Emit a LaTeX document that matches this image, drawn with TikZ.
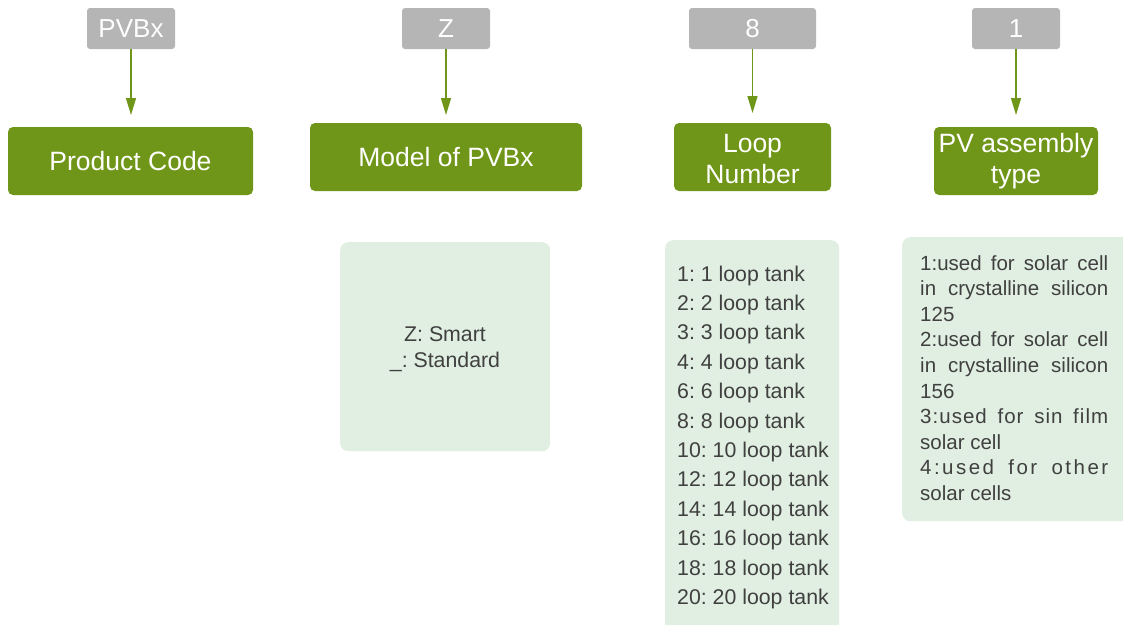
\documentclass[tikz,border=0pt]{standalone}
\usepackage{fontspec}
\setmainfont{Liberation Sans}
\usetikzlibrary{arrows.meta}
\frenchspacing
\definecolor{leaf}{HTML}{6F9618}
\definecolor{codegray}{HTML}{B5B5B5}
\definecolor{pale}{HTML}{E1EFE2}
\definecolor{ink}{HTML}{404040}
\tikzset{
 codebox/.style={fill=codegray, rounded corners=3pt, minimum height=41pt, inner sep=0pt, text=white, font=\fontsize{26}{30}\selectfont},
 titlebox/.style={fill=leaf, rounded corners=5pt, minimum height=68pt, inner sep=0pt},
 titletext/.style={text=white, inner sep=0pt, align=center, font=\fontsize{26.5}{31}\selectfont},
 panel/.style={fill=pale, rounded corners=8pt, inner sep=0pt, anchor=north west},
 item/.style={text=ink, inner sep=0pt, font=\fontsize{20.5}{25}\selectfont},
 bigitem/.style={item, font=\fontsize{21.3}{25}\selectfont},
 link/.style={draw=leaf, line width=1.4pt, -{Triangle[width=10pt,length=17pt]}},
}
\begin{document}
\begin{tikzpicture}[x=1pt,y=-1pt]
\useasboundingbox (0,0) rectangle (1123,624);
% code boxes
\node[codebox, minimum width=88pt] (c1) at (131,28.5) {PVBx};
\node[codebox, minimum width=88pt] (c2) at (446,28.5) {Z};
\node[codebox, minimum width=127pt] (c3) at (752.5,28.5) {8};
\node[codebox, minimum width=88pt] (c4) at (1016,28.5) {1};
% title boxes
\node[titlebox, minimum width=245pt] (t1) at (130.5,161) {};
\node[titlebox, minimum width=272pt] (t2) at (446,157) {};
\node[titlebox, minimum width=157pt] (t3) at (752.5,157) {};
\node[titlebox, minimum width=164pt] (t4) at (1016,161) {};
\node[titletext] (t1x) at (130.5,161.5) {Product Code};
\node[titletext] (t2x) at (446,157.5) {Model of PVBx};
\node[titletext] (t3x) at (752.5,159.5) {Loop\\Number};
\node[titletext] (t4x) at (1016,161.5) {PV assembly\\type};
% arrow ends
\coordinate (e1) at (131,115);
\coordinate (e2) at (446,115);
\coordinate (e3) at (752.5,113);
\coordinate (e4) at (1016,115);
\draw[link] (c1.south) -- (e1);
\draw[link] (c2.south) -- (e2);
\draw[link] (c3.south) -- (e3);
\draw[link] (c4.south) -- (e4);
% panels
\node[panel, minimum width=210pt, minimum height=209pt] (p2) at (340,242) {};
\node[panel, minimum width=174pt, minimum height=400pt] (p3) at (665,240) {};
\node[panel, minimum width=231pt, minimum height=284pt] (p4) at (902,237) {};
% model panel text
\node[bigitem, anchor=base] (m1) at (445,341) {Z: Smart};
\node[bigitem, anchor=base] (m2) at (445,367) {\_: Standard};
% loop list
\foreach \k/\v in {0/1,1/2,2/3,3/4,4/6,5/8,6/10,7/12,8/14,9/16,10/18,11/20}{
  \node[bigitem, anchor=base west] (l\k) at (677,281+29.4*\k) {\v: \v{} loop tank};
}
% PV list
\node[item, anchor=base west] (v0) at (920,270) {\makebox[188pt][s]{1:used for solar cell}};
\node[item, anchor=base west] (v1) at (920,295.6) {\makebox[188pt][s]{in crystalline silicon}};
\node[item, anchor=base west] (v2) at (920,321.2) {125};
\node[item, anchor=base west] (v3) at (920,346.8) {\makebox[188pt][s]{2:used for solar cell}};
\node[item, anchor=base west] (v4) at (920,372.4) {\makebox[188pt][s]{in crystalline silicon}};
\node[item, anchor=base west] (v5) at (920,398) {156};
\node[item, anchor=base west] (v6) at (920,423.6) {\makebox[188pt][s]{\addfontfeature{LetterSpace=5}3:used for sin film}};
\node[item, anchor=base west] (v7) at (920,449.2) {solar cell};
\node[item, anchor=base west] (v8) at (920,474.8) {\makebox[188pt][s]{\addfontfeature{LetterSpace=12}4:used for other}};
\node[item, anchor=base west] (v9) at (920,500.4) {solar cells};
\end{tikzpicture}
\end{document}
